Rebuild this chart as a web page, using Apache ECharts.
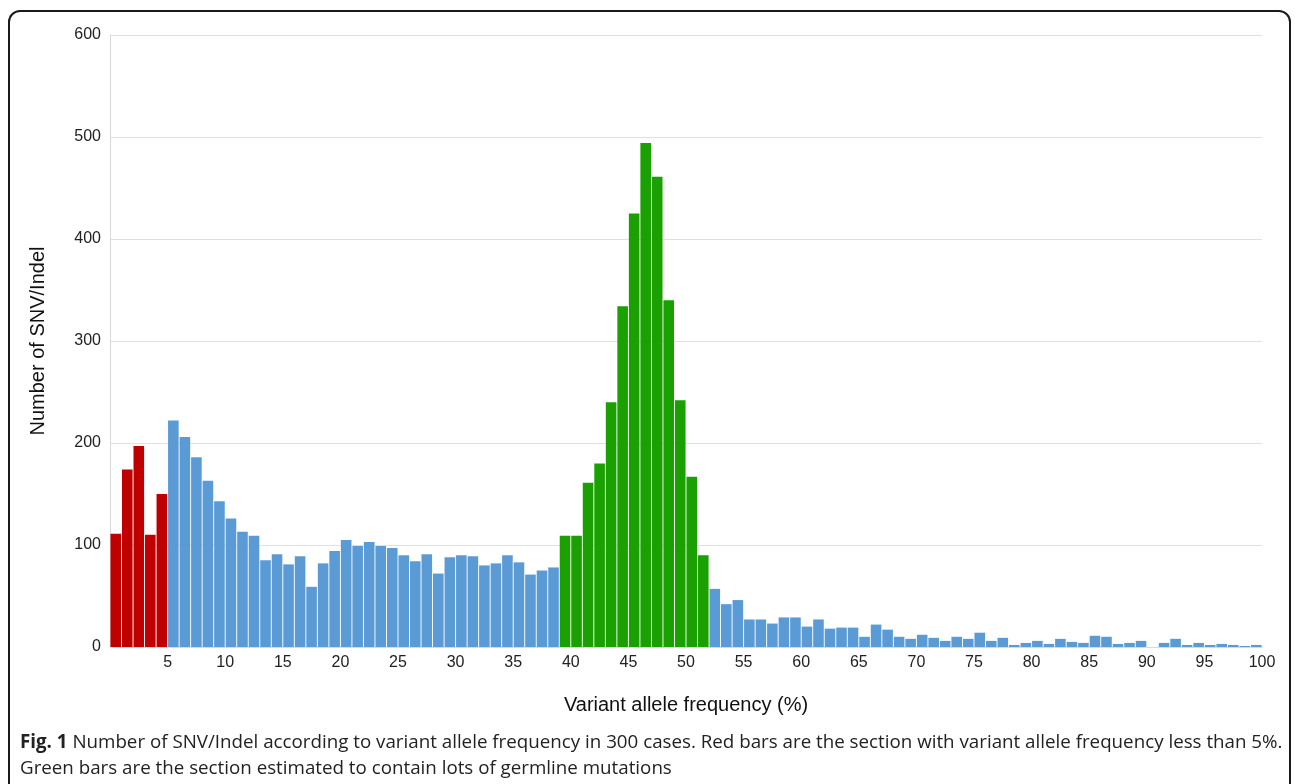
<!DOCTYPE html>
<html>
<head>
<meta charset="utf-8">
<title>Number of SNV/Indel by variant allele frequency</title>
<script src="https://cdn.jsdelivr.net/npm/echarts@6/dist/echarts.min.js"></script>
<style>
  html, body { margin: 0; padding: 0; background: #fff; }
  #chart { width: 1295px; height: 784px; }
</style>
</head>
<body>
<div id="chart"></div>
<script>
// Variant allele frequency bins (%), one bar per 1% bin
const vafBins = Array.from({ length: 100 }, (_, i) => i + 1);

// Number of SNV/Indel in each bin
const variantCounts = [
  111, 174, 197, 110, 150, 222, 206, 186, 163, 143,
  126, 113, 109, 85, 91, 81, 89, 59, 82, 94,
  105, 99, 103, 99, 97, 90, 84, 91, 72, 88,
  90, 89, 80, 82, 90, 83, 71, 75, 78, 109,
  109, 161, 180, 240, 334, 425, 494, 461, 340, 242,
  167, 90, 57, 42, 46, 27, 27, 23, 29, 29,
  20, 27, 18, 19, 19, 10, 22, 17, 10, 8,
  12, 9, 6, 10, 8, 14, 6, 9, 2, 4,
  6, 3, 8, 5, 4, 11, 10, 3, 4, 6,
  0, 4, 8, 2, 4, 2, 3, 2, 1, 2
];

// Highlighted sections (inclusive bin ranges)
const lowVafRange = [1, 5];        // red: VAF below 5%
const germlineRange = [40, 52];    // green: likely germline

// Axis ticks
const yTicks = [0, 100, 200, 300, 400, 500, 600];
const xTickStep = 5;

const colors = { low: '#c00000', germline: '#1aa000', other: '#5b9bd5' };

function binColor(bin) {
  if (bin >= lowVafRange[0] && bin <= lowVafRange[1]) return colors.low;
  if (bin >= germlineRange[0] && bin <= germlineRange[1]) return colors.germline;
  return colors.other;
}

// Each bar is centred in the middle of its 1% bin
const barData = vafBins.map((bin, i) => ({
  value: [bin - 0.5, variantCounts[i]],
  itemStyle: { color: binColor(bin) }
}));

const chart = echarts.init(document.getElementById('chart'), null, { renderer: 'canvas' });

const labelFont = 'Liberation Sans, Arial, sans-serif';

chart.setOption({
  animation: false,
  backgroundColor: '#ffffff',
  grid: { left: 110, right: 33, top: 35, bottom: 137, containLabel: false },
  xAxis: {
    type: 'value',
    min: 0,
    max: 100,
    interval: xTickStep,
    name: 'Variant allele frequency (%)',
    nameLocation: 'middle',
    nameGap: 48,
    nameTextStyle: { fontFamily: labelFont, fontSize: 20, color: '#111' },
    axisLine: { show: true, lineStyle: { color: '#d9d9d9', width: 1 } },
    axisTick: { show: false },
    splitLine: { show: false },
    axisLabel: {
      showMinLabel: false,
      fontFamily: labelFont, fontSize: 16, color: '#222', margin: 8
    }
  },
  yAxis: {
    type: 'value',
    min: yTicks[0],
    max: yTicks[yTicks.length - 1],
    interval: yTicks[1] - yTicks[0],
    name: 'Number of SNV/Indel',
    nameLocation: 'middle',
    nameGap: 62,
    nameRotate: 90,
    nameTextStyle: { fontFamily: labelFont, fontSize: 20, color: '#111' },
    axisLine: { show: true, lineStyle: { color: '#d9d9d9', width: 1 } },
    axisTick: { show: false },
    splitLine: { show: true, lineStyle: { color: '#e0e0e0', width: 1 } },
    axisLabel: { fontFamily: labelFont, fontSize: 16, color: '#222', margin: 9 }
  },
  series: [{
    type: 'bar',
    data: barData,
    barWidth: 10.6
  }],
  graphic: [
    {
      type: 'rect',
      silent: true,
      shape: { x: 9, y: 11, width: 1281, height: 820, r: 11 },
      style: { fill: 'none', stroke: '#1a1a1a', lineWidth: 2 }
    },
    {
      type: 'text',
      silent: true,
      left: 20,
      top: 730,
      style: {
        text: '{b|Fig. 1} Number of SNV/Indel according to variant allele frequency in 300 cases. Red bars are the section with variant allele frequency less than 5%.\nGreen bars are the section estimated to contain lots of germline mutations',
        font: '18.75px "Open Sans", sans-serif',
        fill: '#222',
        lineHeight: 26,
        rich: {
          b: { font: 'bold 18.75px "Open Sans", sans-serif', fill: '#222', lineHeight: 26 }
        }
      }
    }
  ]
});
</script>
</body>
</html>
